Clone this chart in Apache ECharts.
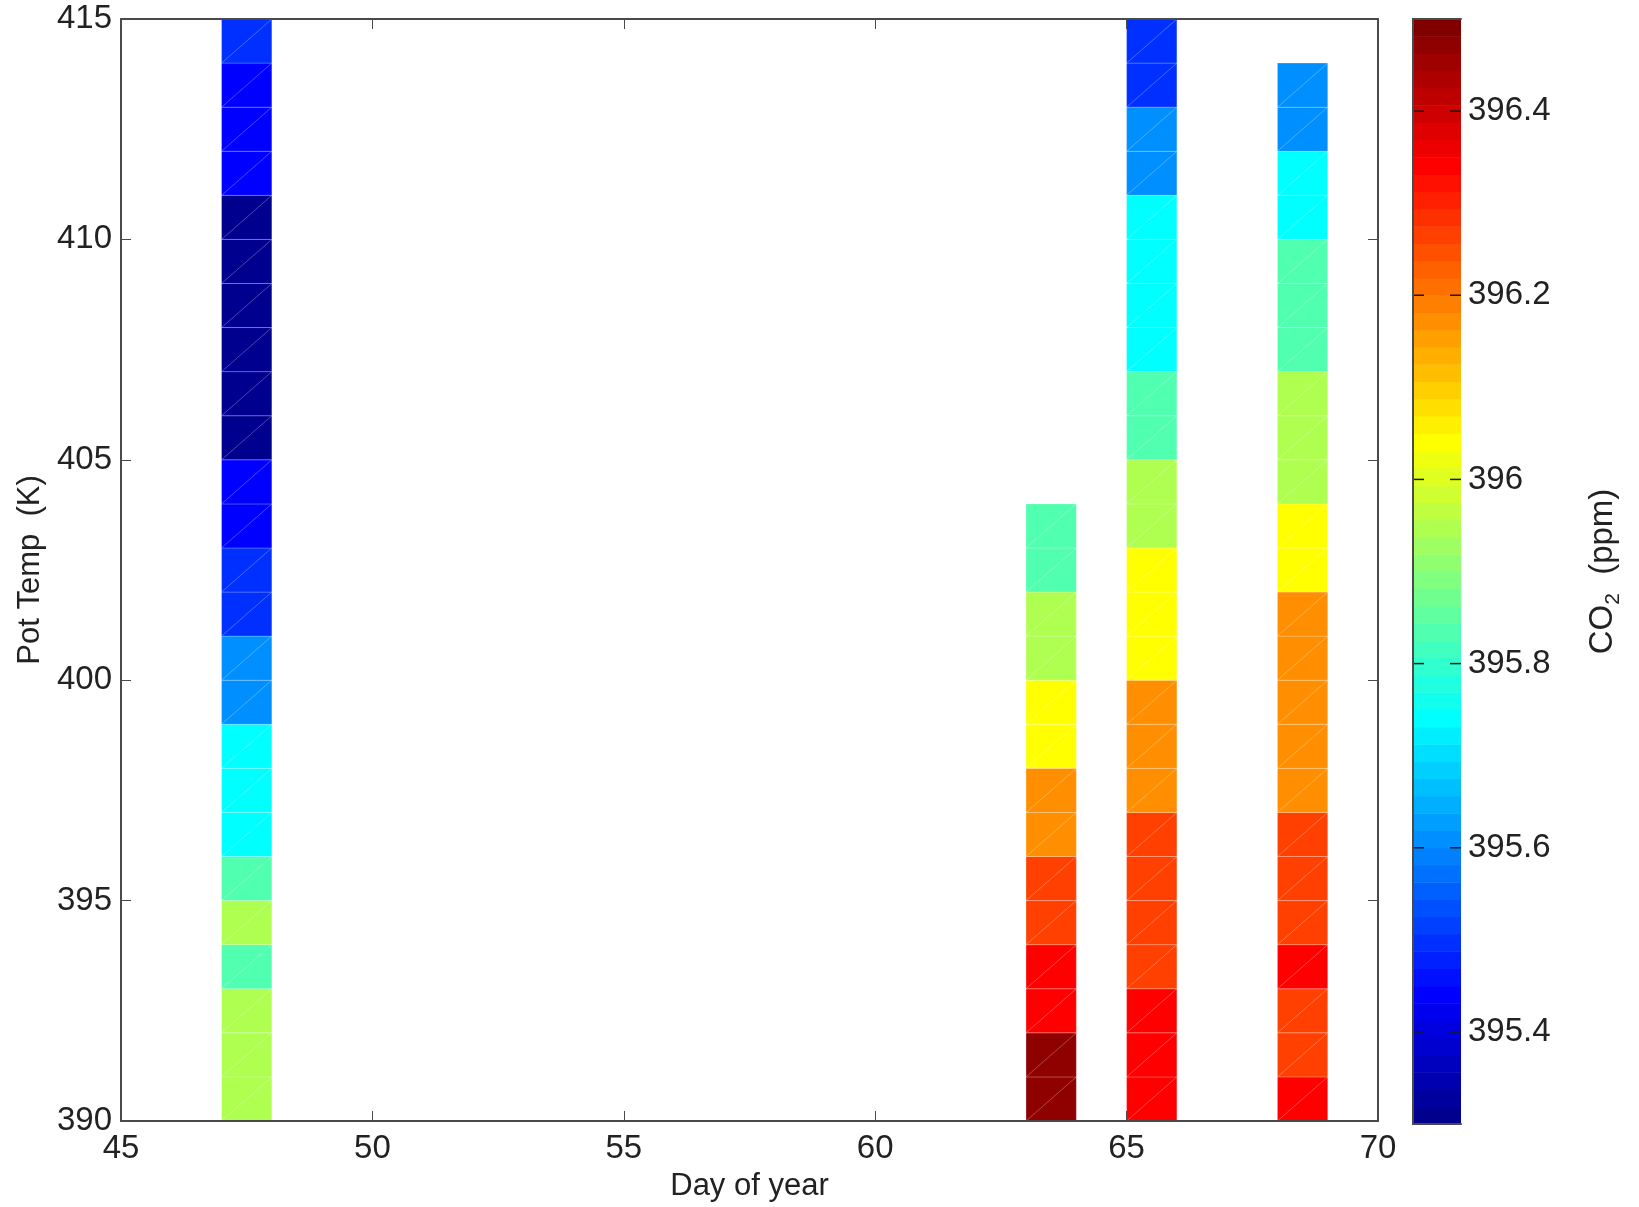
<!DOCTYPE html>
<html>
<head>
<meta charset="utf-8">
<script src="https://cdn.jsdelivr.net/npm/echarts@6/dist/echarts.min.js"></script>
<style>
html,body{margin:0;padding:0;background:#fff;}
#chart{width:1639px;height:1207px;}
</style>
</head>
<body>
<div id="chart"></div>
<script>
// ---- Data ----
const days = [47, 63, 65, 68];           // day-of-year bin start (1 day wide)
const binWidthDay = 1;
const binHeightK = 1;
// Potential temperature bin starts (K), bottom to top
const potTempBins = [390, 391, 392, 393, 394, 395, 396, 397, 398, 399, 400, 401, 402,
                     403, 404, 405, 406, 407, 408, 409, 410, 411, 412, 413, 414];
// CO2 (ppm) per column, listed from 390 K upward
const co2Day47 = [395.945, 395.945, 395.945, 395.835, 395.945, 395.835, 395.74, 395.74, 395.74,
                  395.61, 395.61, 395.49, 395.49, 395.44, 395.44, 395.31, 395.31, 395.31,
                  395.31, 395.31, 395.31, 395.44, 395.44, 395.44, 395.49];
const co2Day63 = [396.47, 396.47, 396.34, 396.34, 396.265, 396.265, 396.17, 396.17, 396.04,
                  396.04, 395.945, 395.945, 395.835, 395.835];
const co2Day65 = [396.34, 396.34, 396.34, 396.265, 396.265, 396.265, 396.265, 396.17, 396.17,
                  396.17, 396.04, 396.04, 396.04, 395.945, 395.945, 395.835, 395.835, 395.74,
                  395.74, 395.74, 395.74, 395.61, 395.61, 395.49, 395.49];
const co2Day68 = [396.34, 396.265, 396.265, 396.34, 396.265, 396.265, 396.265, 396.17, 396.17,
                  396.17, 396.17, 396.17, 396.04, 396.04, 395.945, 395.945, 395.945, 395.835,
                  395.835, 395.835, 395.74, 395.74, 395.61, 395.61];
const co2Columns = [co2Day47, co2Day63, co2Day65, co2Day68];

const xTicks = [45, 50, 55, 60, 65, 70];
const yTicks = [390, 395, 400, 405, 410, 415];
const cbarMin = 395.3, cbarMax = 396.5;
const cbarTicks = [395.4, 395.6, 395.8, 396.0, 396.2, 396.4];

// ---- MATLAB jet(64) colormap ----
function jetColor(r) { // r: 1..64
  let R, G, B;
  if (r <= 8) B = (r + 8) / 16; else if (r <= 24) B = 1; else if (r <= 39) B = (40 - r) / 16; else B = 0;
  if (r <= 8) G = 0; else if (r <= 24) G = (r - 8) / 16; else if (r <= 40) G = 1; else if (r <= 55) G = (56 - r) / 16; else G = 0;
  if (r <= 24) R = 0; else if (r <= 40) R = (r - 24) / 16; else if (r <= 56) R = 1; else R = (72 - r) / 16;
  const h = v => Math.round(Math.max(0, Math.min(1, v)) * 255);
  return 'rgb(' + h(R) + ',' + h(G) + ',' + h(B) + ')';
}
const nLevels = 64;
const step = (cbarMax - cbarMin) / nLevels;
const pieces = [];
const cbarData = [];
for (let i = 0; i < nLevels; i++) {
  const lo = cbarMin + i * step, hi = cbarMin + (i + 1) * step;
  const c = jetColor(i + 1);
  pieces.push({ gte: lo, lt: hi, color: c });
  cbarData.push([lo, hi, c]);
}
pieces[nLevels - 1].lte = cbarMax; delete pieces[nLevels - 1].lt;

const cells = [];
days.forEach((d, ci) => {
  co2Columns[ci].forEach((v, k) => cells.push([d, potTempBins[k], v]));
});

const font = 'Liberation Sans, Arial, Helvetica, sans-serif';
const axisCol = '#4a4a4a';
const txtCol = '#222';
const tickFont = 33;

const chart = echarts.init(document.getElementById('chart'), null, { renderer: 'canvas' });
const baseAxis = {
  axisLine: { show: true, lineStyle: { color: axisCol, width: 2 } },
  axisTick: { show: true, inside: true, length: 10, lineStyle: { color: axisCol, width: 1 } },
  splitLine: { show: false },
  z: 10
};

chart.setOption({
  backgroundColor: '#fff',
  animation: false,
  grid: [
    { left: 121, top: 19, width: 1257, height: 1105, containLabel: false },
    { left: 1413, top: 19, width: 48, height: 1105, containLabel: false }
  ],
  visualMap: [{
    type: 'piecewise', show: false, dimension: 2, seriesIndex: 0, pieces: pieces
  }],
  xAxis: [
    Object.assign({}, baseAxis, {
      gridIndex: 0, type: 'value', position: 'bottom', min: 45, max: 70, interval: 5,
      axisLabel: { fontSize: tickFont, color: txtCol, fontFamily: font, margin: 11, showMinLabel: true, showMaxLabel: true },
      name: 'Day of year', nameLocation: 'middle', nameGap: 50,
      nameTextStyle: { fontSize: 31, color: txtCol, fontFamily: font }
    }),
    Object.assign({}, baseAxis, {
      gridIndex: 0, type: 'value', position: 'top', min: 45, max: 70, interval: 5,
      axisLabel: { show: false }
    }),
    { gridIndex: 1, type: 'value', position: 'bottom', min: 0, max: 1, z: 10,
      axisLine: { show: true, lineStyle: { color: axisCol, width: 2 } },
      axisTick: { show: false }, axisLabel: { show: false }, splitLine: { show: false } },
    { gridIndex: 1, type: 'value', position: 'top', min: 0, max: 1, z: 10,
      axisLine: { show: true, lineStyle: { color: axisCol, width: 2 } },
      axisTick: { show: false }, axisLabel: { show: false }, splitLine: { show: false } }
  ],
  yAxis: [
    Object.assign({}, baseAxis, {
      gridIndex: 0, type: 'value', position: 'left', min: 390, max: 415, interval: 5,
      axisLabel: { fontSize: tickFont, color: txtCol, fontFamily: font, margin: 9, showMinLabel: true, showMaxLabel: true },
      name: 'Pot Temp  (K)', nameLocation: 'middle', nameGap: 73, nameRotate: 90,
      nameTextStyle: { fontSize: 31, color: txtCol, fontFamily: font }
    }),
    Object.assign({}, baseAxis, {
      gridIndex: 0, type: 'value', position: 'right', min: 390, max: 415, interval: 5,
      axisLabel: { show: false }
    }),
    { gridIndex: 1, type: 'value', position: 'right', min: cbarMin, max: cbarMax, z: 10,
      axisLine: { show: true, lineStyle: { color: axisCol, width: 2 } },
      axisTick: { show: false },
      axisLabel: { show: true, customValues: cbarTicks, fontSize: tickFont, color: txtCol, fontFamily: font, margin: 7,
                   formatter: v => String(parseFloat(v.toFixed(1))) },
      splitLine: { show: false },
      name: '{a|CO}{sub|2}{a|  (ppm)}', nameLocation: 'middle', nameGap: 121, nameRotate: 90,
      nameTextStyle: {
        color: txtCol, fontFamily: font,
        rich: {
          a: { fontSize: 33, color: txtCol, fontFamily: font, lineHeight: 42, verticalAlign: 'middle' },
          sub: { fontSize: 21, color: txtCol, fontFamily: font, lineHeight: 21, verticalAlign: 'bottom' }
        }
      }
    },
    { gridIndex: 1, type: 'value', position: 'left', min: cbarMin, max: cbarMax, z: 10,
      axisLine: { show: true, lineStyle: { color: axisCol, width: 2 } },
      axisTick: { show: false },
      axisLabel: { show: false }, splitLine: { show: false } }
  ],
  series: [
    {
      type: 'custom', xAxisIndex: 0, yAxisIndex: 0, data: cells,
      encode: { x: 0, y: 1 },
      renderItem: function (params, api) {
        const x = api.value(0), y = api.value(1);
        const p0 = api.coord([x, y]);
        const p1 = api.coord([x + binWidthDay, y + binHeightK]);
        const color = api.visual('color');
        return {
          type: 'group',
          children: [
            { type: 'rect', shape: { x: p0[0], y: p1[1], width: p1[0] - p0[0], height: p0[1] - p1[1] },
              style: { fill: color, stroke: 'rgba(255,255,255,0.22)', lineWidth: 1 } },
            { type: 'line', shape: { x1: p0[0], y1: p0[1], x2: p1[0], y2: p1[1] },
              style: { stroke: 'rgba(255,255,255,0.28)', lineWidth: 1 } }
          ]
        };
      }
    },
    {
      type: 'custom', xAxisIndex: 2, yAxisIndex: 2, data: cbarData,
      encode: { y: [0, 1] },
      renderItem: function (params, api) {
        const lo = api.value(0), hi = api.value(1);
        const p0 = api.coord([0, lo]);
        const p1 = api.coord([1, hi]);
        return {
          type: 'rect',
          shape: { x: p0[0], y: p1[1], width: p1[0] - p0[0], height: p0[1] - p1[1] + 0.5 },
          style: { fill: cbarData[params.dataIndex][2] }
        };
      }
    },
    {
      // colorbar tick marks (inside, both edges)
      type: 'custom', xAxisIndex: 2, yAxisIndex: 2, data: cbarTicks.map(v => [v]),
      encode: { y: 0 }, z: 5,
      renderItem: function (params, api) {
        const v = api.value(0);
        const pl = api.coord([0, v]);
        const pr = api.coord([1, v]);
        const st = { stroke: '#1a1a1a', lineWidth: 1.5 };
        return {
          type: 'group',
          children: [
            { type: 'line', shape: { x1: pl[0], y1: pl[1], x2: pl[0] + 11, y2: pl[1] }, style: st },
            { type: 'line', shape: { x1: pr[0] - 11, y1: pr[1], x2: pr[0], y2: pr[1] }, style: st }
          ]
        };
      }
    }
  ]
});
</script>
</body>
</html>
